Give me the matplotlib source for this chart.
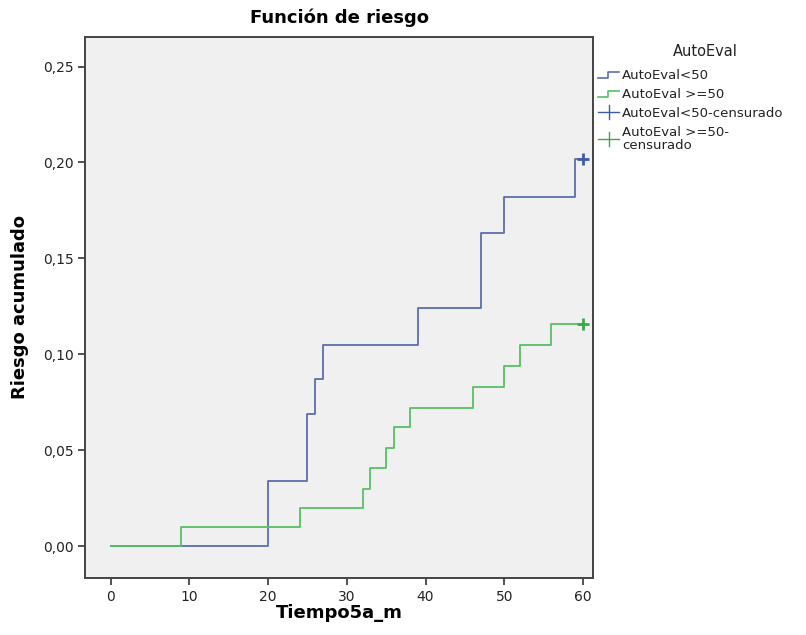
import matplotlib
matplotlib.use("Agg")
import matplotlib.pyplot as plt
from matplotlib.ticker import FuncFormatter
from matplotlib.lines import Line2D
from matplotlib.legend_handler import HandlerBase

# Data
blue_t = [0, 20, 25, 26, 27, 39, 47, 50, 59, 60]
blue_h = [0.0, 0.034, 0.069, 0.087, 0.105, 0.124, 0.163, 0.182, 0.202, 0.202]
green_t = [0, 9, 24, 32, 33, 35, 36, 38, 46, 50, 52, 56, 60]
green_h = [0.0, 0.010, 0.020, 0.030, 0.041, 0.051, 0.062, 0.072, 0.083, 0.094, 0.105, 0.116, 0.116]
blue_cens_t = [60]
blue_cens_h = [0.202]
green_cens_t = [60]
green_cens_h = [0.116]
xticks = [0, 10, 20, 30, 40, 50, 60]
yticks = [0.0, 0.05, 0.10, 0.15, 0.20, 0.25]
labels = ["AutoEval<50", "AutoEval >=50", "AutoEval<50-censurado", "AutoEval >=50-\ncensurado"]

BLUE = "#5b6eac"
GREEN = "#56c063"
BLUE_M = "#3f5aa8"
GREEN_M = "#3aa84a"

fig = plt.figure(figsize=(8.06, 6.35), dpi=100)
ax = fig.add_axes([0.106, 0.090, 0.630, 0.852])
ax.set_facecolor("#f0f0f0")

ax.step(blue_t, blue_h, where="post", color=BLUE, lw=1.3)
ax.step(green_t, green_h, where="post", color=GREEN, lw=1.3)
ax.plot(blue_cens_t, blue_cens_h, marker="+", ms=8, mew=2, color=BLUE_M, ls="none")
ax.plot(green_cens_t, green_cens_h, marker="+", ms=8, mew=2, color=GREEN_M, ls="none")

ax.set_xlim(-3.2, 61.3)
ax.set_ylim(-0.0165, 0.2655)
ax.set_xticks(xticks)
ax.set_yticks(yticks)
ax.yaxis.set_major_formatter(FuncFormatter(lambda v, p: f"{v:.2f}".replace(".", ",")))
ax.xaxis.set_major_formatter(FuncFormatter(lambda v, p: f"{int(v)}"))
for s in ax.spines.values():
    s.set_color("#444444")
    s.set_linewidth(1.4)
ax.tick_params(axis="both", direction="out", length=5, width=1.2, color="#333333",
               labelsize=10, labelcolor="#222222")

ax.set_title("Función de riesgo", fontsize=13, fontweight="bold", pad=10)
ax.set_xlabel("Tiempo5a_m", fontsize=13, fontweight="bold", labelpad=0)
ax.set_ylabel("Riesgo acumulado", fontsize=13, fontweight="bold", labelpad=10)


class StepHandler(HandlerBase):
    def __init__(self, color):
        super().__init__()
        self.color = color

    def create_artists(self, legend, orig_handle, xd, yd, w, h, fontsize, trans):
        xs = [xd, xd + w * 0.45, xd + w * 0.45, xd + w]
        ys = [yd + h * 0.1, yd + h * 0.1, yd + h * 0.8, yd + h * 0.8]
        return [Line2D(xs, ys, color=self.color, lw=1.2, transform=trans)]


class CrossHandler(HandlerBase):
    def __init__(self, color):
        super().__init__()
        self.color = color

    def create_artists(self, legend, orig_handle, xd, yd, w, h, fontsize, trans):
        l1 = Line2D([xd, xd + w], [yd + h / 2, yd + h / 2], color=self.color, lw=1.0, transform=trans)
        l2 = Line2D([xd + w / 2, xd + w / 2], [yd - h * 0.25, yd + h * 1.25], color=self.color, lw=1.0, transform=trans)
        return [l1, l2]


fig.text(705 / 806, 1 - 52 / 635, "AutoEval", ha="center", va="center", fontsize=10.5, color="#222222")

h1 = Line2D([], [], color=BLUE)
h2 = Line2D([], [], color=GREEN)
h3 = Line2D([], [], color=BLUE_M, marker="+")
h4 = Line2D([], [], color=GREEN_M, marker="+")
leg = fig.legend([h1, h2, h3, h4], labels,
                 loc="upper left", bbox_to_anchor=(0.742, 1 - 69 / 635),
                 frameon=False, fontsize=9.5,
                 handlelength=1.6, handletextpad=0.2, labelspacing=0.45,
                 borderaxespad=0, borderpad=0,
                 handler_map={h1: StepHandler(BLUE), h2: StepHandler(GREEN),
                              h3: CrossHandler(BLUE_M), h4: CrossHandler(GREEN_M)})
for t in leg.get_texts():
    t.set_color("#222222")
    t.set_linespacing(1.0)

fig.savefig("out.png", dpi=100, facecolor="white")
